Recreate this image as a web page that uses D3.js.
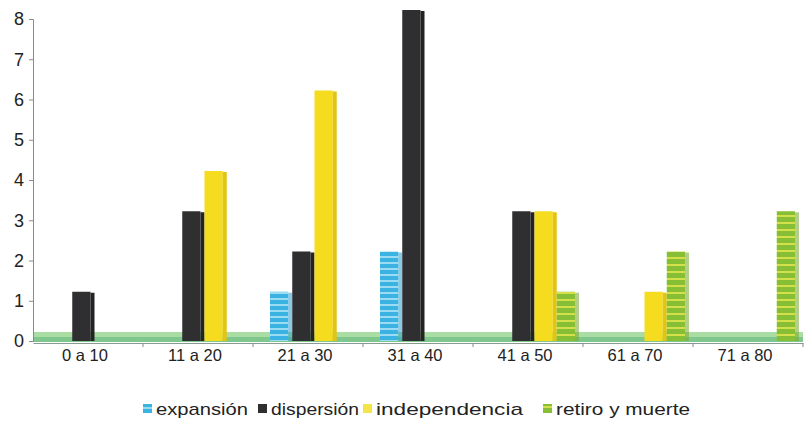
<!DOCTYPE html>
<html>
<head>
<meta charset="utf-8">
<script src="https://cdn.jsdelivr.net/npm/d3@7/dist/d3.min.js"></script>
<style>
  body { margin: 0; background: #fff; }
  svg { display: block; font-family: Arial, "Liberation Sans", sans-serif; }
</style>
</head>
<body>
<div id="chart"></div>
<script>
var w = 806, h = 434;

// datos
const categories = ["0 a 10", "11 a 20", "21 a 30", "31 a 40", "41 a 50", "61 a 70", "71 a 80"];
const series = ["expansión", "dispersión", "independencia", "retiro y muerte"];
const expansion = [0, 0, 1, 2, 0, 0, 0];
const dispersion = [1, 3, 2, 8, 3, 0, 0];
const independencia = [0, 4, 6, 0, 3, 1, 0];
const retiro = [0, 0, 0, 0, 1, 2, 3];
const yTicks = [0, 1, 2, 3, 4, 5, 6, 7, 8];

const values = [expansion, dispersion, independencia, retiro];
const fills = ["url(#stripeBlue)", "#2f2e31", "#f6dc1e", "url(#stripeGreen)"];
const sides = ["#2a9fd0", "#232225", "#e2c412", "#74a82c"];
const swatch = ["url(#stripeBlue)", "#2f2e31", "#f3e44a", "url(#stripeGreen)"];

const MARGIN = { LEFT: 33, RIGHT: 3, TOP: 19, BOTTOM: 93 }
const depth = 9;  // perspectiva 3D: la cara superior queda por encima del valor

var svg = d3.select("#chart").append("svg")
    .attr("width", w)
    .attr("height", h);

var defs = svg.append("defs");
var pb = defs.append("pattern").attr("id", "stripeBlue")
    .attr("patternUnits", "userSpaceOnUse").attr("width", 8).attr("height", 6);
pb.append("rect").attr("width", 8).attr("height", 6).attr("fill", "#3ab3e2");
pb.append("rect").attr("y", 4).attr("width", 8).attr("height", 2).attr("fill", "#9bdcf2");
var pg = defs.append("pattern").attr("id", "stripeGreen")
    .attr("patternUnits", "userSpaceOnUse").attr("width", 8).attr("height", 7);
pg.append("rect").attr("width", 8).attr("height", 7).attr("fill", "#86bf35");
pg.append("rect").attr("y", 5).attr("width", 8).attr("height", 2).attr("fill", "#d4e04a");

var x0 = d3.scaleBand()
    .domain(categories)
    .range([MARGIN.LEFT, w - MARGIN.RIGHT]);

var x1 = d3.scaleBand()
    .domain(series)
    .range([17, 106]);

var y = d3.scaleLinear()
    .domain([0, 8])
    .range([h - MARGIN.BOTTOM, MARGIN.TOP]);

// suelo verde
var floorY = y(0);
svg.append("rect").attr("x", MARGIN.LEFT).attr("y", floorY - 9)
    .attr("width", w - MARGIN.RIGHT - MARGIN.LEFT).attr("height", 5).attr("fill", "#aadda3");
svg.append("rect").attr("x", MARGIN.LEFT).attr("y", floorY - 4)
    .attr("width", w - MARGIN.RIGHT - MARGIN.LEFT).attr("height", 5).attr("fill", "#7fc78c");

// barras
series.forEach(function(s, si) {
    var data = categories.map(function(c, i) { return { cat: c, v: values[si][i] }; })
        .filter(function(d) { return d.v > 0; });
    var g = svg.append("g");
    g.selectAll("rect.front")
        .data(data)
        .enter().append("rect")
        .attr("class", "front")
        .attr("x", d => x0(d.cat) + x1(s))
        .attr("y", d => y(d.v) - depth)
        .attr("width", x1.bandwidth() - 4)
        .attr("height", d => floorY - y(d.v) + depth)
        .attr("fill", fills[si]);
    g.selectAll("rect.side")
        .data(data)
        .enter().append("rect")
        .attr("class", "side")
        .attr("x", d => x0(d.cat) + x1(s) + x1.bandwidth() - 4)
        .attr("y", d => y(d.v) - depth + 1)
        .attr("width", 4)
        .attr("height", d => floorY - y(d.v) + depth - 1)
        .attr("fill", sides[si])
        .attr("opacity", si == 0 || si == 3 ? 0.55 : 1);
});

// ejes
svg.append("g")
    .attr("transform", "translate(" + MARGIN.LEFT + ",0)")
    .call(d3.axisLeft(y).tickValues(yTicks).tickSize(4).tickPadding(5).tickFormat(d3.format("d")))
    .call(g => g.selectAll("path, line").attr("stroke", "#8a8a8a"))
    .call(g => g.selectAll("text").attr("font-size", 18).attr("fill", "#222")
        .attr("font-family", "Arial, 'Liberation Sans', sans-serif"));

svg.append("g")
    .attr("transform", "translate(0," + (floorY + 2) + ")")
    .call(d3.axisBottom(x0).tickSize(0).tickPadding(6))
    .call(g => g.select(".domain").attr("stroke", "#8a9a90"))
    .call(g => g.selectAll("text").attr("font-size", 16.5).attr("fill", "#222").attr("dx", -3)
        .attr("font-family", "Arial, 'Liberation Sans', sans-serif"));

// marcas entre categorias
svg.append("g").selectAll("line")
    .data(categories.slice(1).concat(["end"]))
    .enter().append("line")
    .attr("x1", (d, i) => MARGIN.LEFT + (i + 1) * x0.step())
    .attr("x2", (d, i) => MARGIN.LEFT + (i + 1) * x0.step())
    .attr("y1", floorY + 2).attr("y2", floorY + 6)
    .attr("stroke", "#8a8a8a");

// leyenda
const legendX = [143, 258, 363, 543];
const legendW = [92, 88, 147, 134];
var leg = svg.append("g").attr("transform", "translate(0,415)");
series.forEach(function(s, i) {
    leg.append("rect").attr("x", legendX[i]).attr("y", -11)
        .attr("width", 9).attr("height", 9).attr("fill", swatch[i]);
    leg.append("text").attr("x", legendX[i] + 13).attr("y", 0)
        .attr("font-size", 17).attr("fill", "#222")
        .attr("textLength", legendW[i]).attr("lengthAdjust", "spacingAndGlyphs")
        .text(s);
});
</script>
</body>
</html>
